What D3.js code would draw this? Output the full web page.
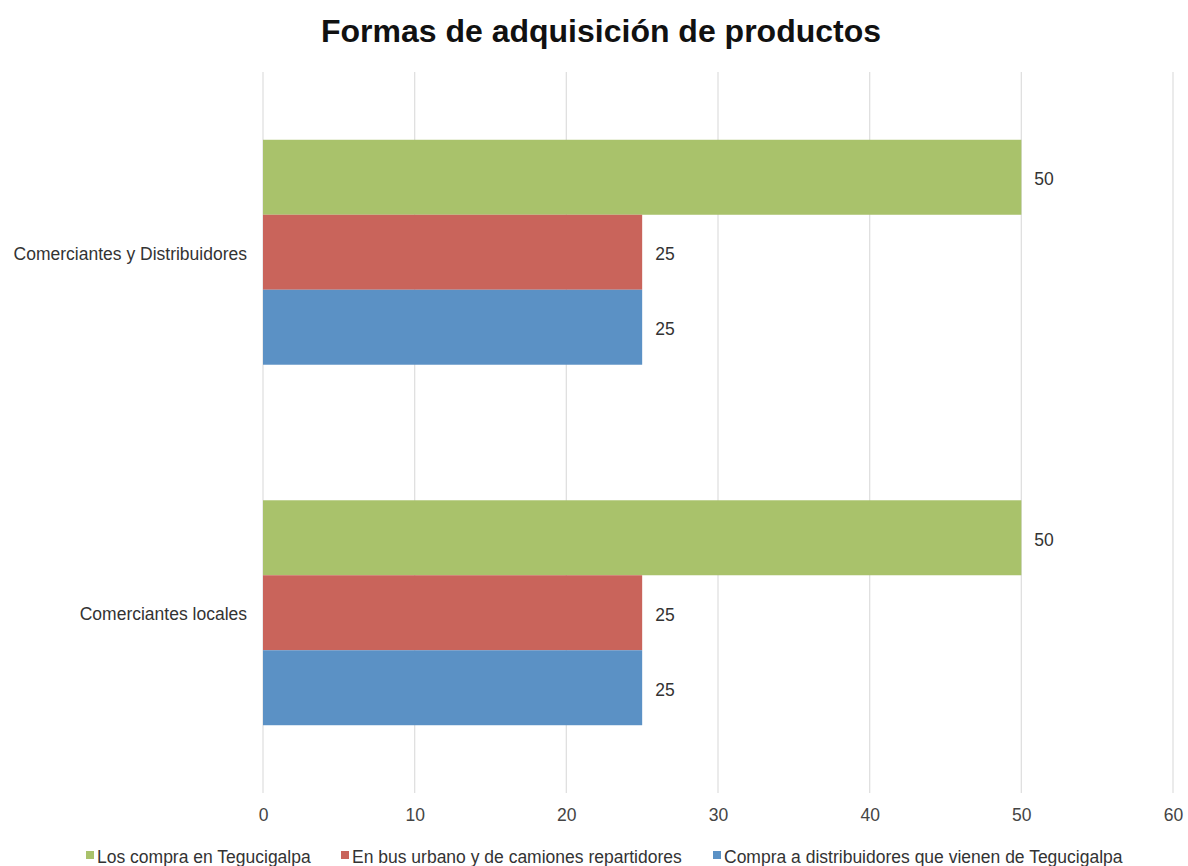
<!DOCTYPE html>
<html>
<head>
<meta charset="utf-8">
<script src="https://cdn.jsdelivr.net/npm/d3@7"></script>
<style>
  body { margin: 0; background: #fff; }
  svg { display: block; font-family: "Liberation Sans", Arial, sans-serif; }
</style>
</head>
<body>
<svg id="chart" width="1188" height="866"></svg>
<script>
// Chart data
const categories = ["Comerciantes y Distribuidores", "Comerciantes locales"];
const seriesNames = [
  "Los compra en Tegucigalpa",
  "En bus urbano y de camiones repartidores",
  "Compra a distribuidores que vienen de Tegucigalpa"
];
const seriesColors = ["#a9c26b", "#c9645b", "#5b91c5"];
const losCompraEnTegucigalpa = [50, 50];
const enBusUrbano = [25, 25];
const compraADistribuidores = [25, 25];
const xTicks = [0, 10, 20, 30, 40, 50, 60];

const seriesValues = [losCompraEnTegucigalpa, enBusUrbano, compraADistribuidores];

const svg = d3.select("#chart");
const plot = { left: 263, right: 1173, top: 72, bottom: 793 };
const labelSize = 17.5;

const x = d3.scaleLinear().domain([0, 60]).range([plot.left, plot.right]);
const y0 = d3.scaleBand().domain(categories)
  .range([plot.top, plot.bottom]).paddingInner(0.376).paddingOuter(0.188);
const y1 = d3.scaleBand().domain(d3.range(seriesNames.length))
  .range([0, y0.bandwidth()]);

// Title
svg.append("text")
  .attr("x", 601).attr("y", 42)
  .attr("text-anchor", "middle")
  .attr("font-size", 32).attr("font-weight", "bold").attr("fill", "#111")
  .text("Formas de adquisición de productos");

// Vertical grid lines
svg.append("g").selectAll("line").data(xTicks).join("line")
  .attr("x1", d => x(d)).attr("x2", d => x(d))
  .attr("y1", plot.top).attr("y2", plot.bottom)
  .attr("stroke", "#e0e0e0").attr("stroke-width", 1.3);

// X axis tick labels
const xAxis = d3.axisBottom(x).tickValues(xTicks).tickSize(0).tickPadding(0);
const gx = svg.append("g").attr("transform", `translate(0, ${plot.bottom + 16})`).call(xAxis);
gx.select(".domain").remove();
gx.selectAll("text").attr("font-size", labelSize).attr("fill", "#444")
  .attr("font-family", "Liberation Sans, Arial, sans-serif");

// Category labels
const yAxis = d3.axisLeft(y0).tickSize(0).tickPadding(16);
const gy = svg.append("g").attr("transform", `translate(${plot.left}, 2)`).call(yAxis);
gy.select(".domain").remove();
gy.selectAll("text").attr("font-size", labelSize).attr("fill", "#333")
  .attr("font-family", "Liberation Sans, Arial, sans-serif");

// Bars
const rows = [];
categories.forEach((c, ci) => {
  seriesValues.forEach((vals, si) => rows.push({ cat: c, s: si, v: vals[ci] }));
});

const barG = svg.append("g");
barG.selectAll("rect").data(rows).join("rect")
  .attr("x", x(0))
  .attr("y", d => y0(d.cat) + y1(d.s))
  .attr("width", d => x(d.v) - x(0))
  .attr("height", y1.bandwidth())
  .attr("fill", d => seriesColors[d.s]);

// Value labels
barG.selectAll("text").data(rows).join("text")
  .attr("x", d => x(d.v) + 13)
  .attr("y", d => y0(d.cat) + y1(d.s) + y1.bandwidth() / 2 + 2)
  .attr("dy", "0.35em")
  .attr("font-size", labelSize).attr("fill", "#333")
  .text(d => d.v);

// Legend
const legendX = [86, 341, 713];
const lg = svg.append("g");
seriesNames.forEach((name, i) => {
  lg.append("rect")
    .attr("x", legendX[i]).attr("y", 851)
    .attr("width", 8).attr("height", 8)
    .attr("fill", seriesColors[i]);
  lg.append("text")
    .attr("x", legendX[i] + 11).attr("y", 857)
    .attr("dy", "0.35em")
    .attr("font-size", labelSize).attr("fill", "#333")
    .text(name);
});
</script>
</body>
</html>
